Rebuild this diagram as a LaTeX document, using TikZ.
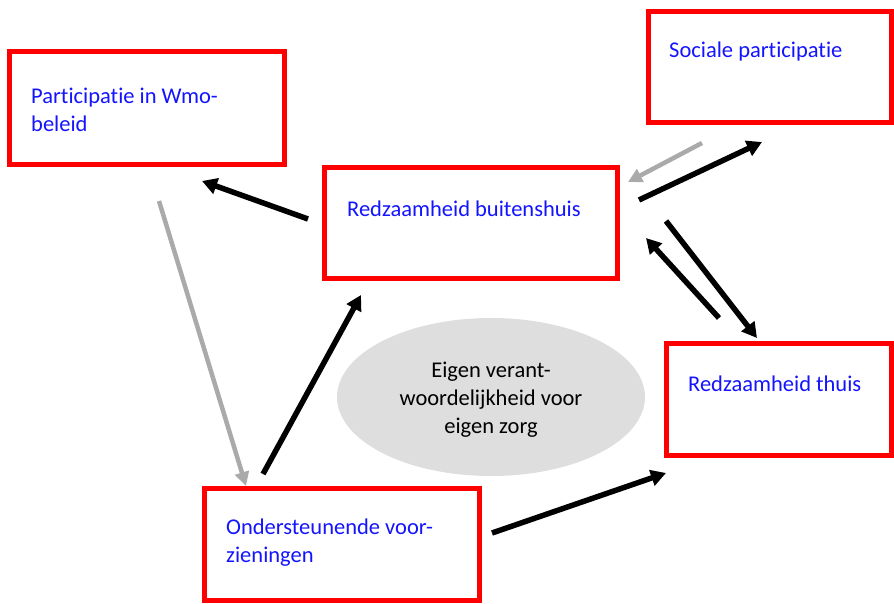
\documentclass[tikz,border=0pt]{standalone}
\usepackage{fontspec}
\setmainfont{Carlito}[Ligatures=NoCommon]
\usetikzlibrary{arrows.meta,shapes.geometric}
\definecolor{boxred}{RGB}{255,0,0}
\definecolor{txtblue}{RGB}{20,20,255}
\definecolor{arrgray}{RGB}{170,170,170}
\definecolor{ellgray}{RGB}{222,222,222}
\begin{document}
\begin{tikzpicture}[x=1pt,y=-1pt,
  redbox/.style={draw=boxred,line width=5pt,fill=white},
  lbl/.style={text=txtblue,font=\fontsize{22.5}{28}\selectfont,anchor=west,inner sep=0pt,align=left},
  blackarrow/.style={draw=black,line width=5.5pt,-{Triangle[length=15pt,width=16pt]}},
  grayarrow/.style={draw=arrgray,line width=4.5pt,-{Triangle[length=14pt,width=14pt]}}]
\useasboundingbox (0,0) rectangle (894,603);
% boxes
\draw[redbox] (9,51) rectangle (284,164);
\draw[redbox] (648,11) rectangle (891,122);
\draw[redbox] (324,167) rectangle (617,278);
\draw[redbox] (666,343) rectangle (891,455);
\draw[redbox] (204,488) rectangle (479,600);
% ellipse
\node[ellipse,fill=ellgray,minimum width=308pt,minimum height=158pt,inner sep=0pt] (ell) at (491,397) {};
\node[align=center,font=\fontsize{22.5}{28}\selectfont,inner sep=0pt] (elltxt) at (491,400) {Eigen verant-\\woordelijkheid voor\\eigen zorg};
% labels
\node[lbl] (wmo) at (31,110) {Participatie in Wmo-\\beleid};
\node[lbl] (soc) at (669,51) {Sociale participatie};
\node[lbl] (bui) at (347,209) {Redzaamheid buitenshuis};
\node[lbl] (thu) at (688,384) {Redzaamheid thuis};
\node[lbl] (ond) at (226,543) {Ondersteunende voor-\\zieningen};
% arrow endpoints
\coordinate (a1s) at (308,219); \coordinate (a1e) at (202,181);
\coordinate (a2s) at (159,201); \coordinate (a2e) at (246,486);
\coordinate (a3s) at (263,474); \coordinate (a3e) at (361,295);
\coordinate (a4s) at (492,533); \coordinate (a4e) at (666,473);
\coordinate (a5s) at (702,143); \coordinate (a5e) at (628,182);
\coordinate (a6s) at (639,200); \coordinate (a6e) at (762,142);
\coordinate (a7s) at (666,221); \coordinate (a7e) at (757,338);
\coordinate (a8s) at (719,318); \coordinate (a8e) at (646,238);
\draw[blackarrow] (a1s) -- (a1e);
\draw[grayarrow] (a2s) -- (a2e);
\draw[blackarrow] (a3s) -- (a3e);
\draw[blackarrow] (a4s) -- (a4e);
\draw[grayarrow] (a5s) -- (a5e);
\draw[blackarrow] (a6s) -- (a6e);
\draw[blackarrow] (a7s) -- (a7e);
\draw[blackarrow] (a8s) -- (a8e);
\end{tikzpicture}
\end{document}
